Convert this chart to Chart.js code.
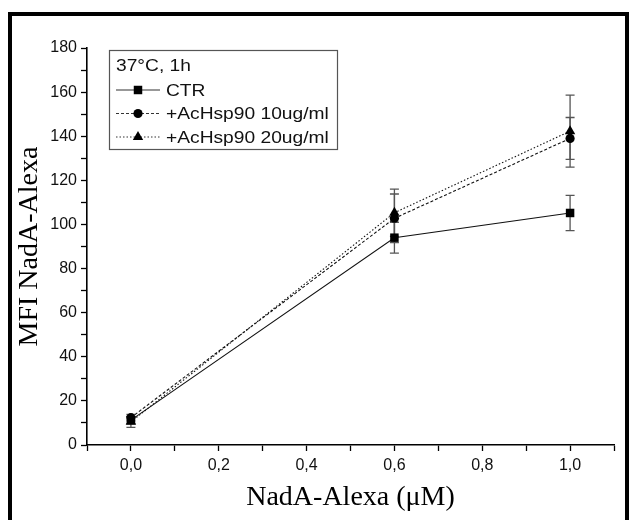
<!DOCTYPE html>
<html><head><meta charset="utf-8">
<script src="https://cdn.jsdelivr.net/npm/chart.js@4/dist/chart.umd.min.js"></script>
<style>html,body{margin:0;padding:0;background:#fff;overflow:hidden}canvas{display:block}</style>
</head><body>
<canvas id="c" width="636" height="520"></canvas>
<script>
// ---- data ----
const concentrations = [0.0, 0.6, 1.0];
const ctrValues   = [11.3, 94.0, 105.2];
const ctrErrors   = [1.5, 7.0, 8.0];
const hsp10Values = [12.4, 102.8, 139.0];
const hsp10Errors = [1.5, 11.0, 9.5];
const hsp20Values = [10.5, 105.3, 142.3];
const hsp20Errors = [2.5, 10.7, 16.3];
const seriesLabels = ['CTR', '+AcHsp90 10ug/ml', '+AcHsp90 20ug/ml'];
const legendTitle = '37°C, 1h';
const xTitle = 'NadA-Alexa (μM)';
const yTitle = 'MFI NadA-Alexa';
const xMajorTicks = [0.0, 0.2, 0.4, 0.6, 0.8, 1.0];
const xTickLabels = ['0,0', '0,2', '0,4', '0,6', '0,8', '1,0'];
const yMajorTicks = [0, 20, 40, 60, 80, 100, 120, 140, 160, 180];
const yTickLabels = ['0', '20', '40', '60', '80', '100', '120', '140', '160', '180'];

function makeSet(label, vals, errs, style, radius, dash) {
  return {
    label: label,
    data: concentrations.map((x, i) => ({ x: x, y: vals[i] })),
    errors: errs,
    showLine: true,
    borderColor: '#111',
    borderWidth: 1.1,
    borderDash: dash,
    pointStyle: style,
    pointRadius: radius,
    pointBackgroundColor: '#000',
    pointBorderColor: '#000',
    pointBorderWidth: 0,
    tension: 0
  };
}

const datasets = [
  makeSet(seriesLabels[0], ctrValues, ctrErrors, 'rect', 6, []),
  makeSet(seriesLabels[1], hsp10Values, hsp10Errors, 'circle', 4.6, [3, 2]),
  makeSet(seriesLabels[2], hsp20Values, hsp20Errors, 'triangle', 6, [1.5, 2])
];

const framePlugin = {
  id: 'frame',
  beforeDraw(chart) {
    const ctx = chart.ctx;
    ctx.save();
    ctx.fillStyle = '#fff';
    ctx.fillRect(0, 0, chart.width, chart.height);
    ctx.strokeStyle = '#000';
    ctx.lineWidth = 4;
    ctx.beginPath();
    ctx.moveTo(10, 530);
    ctx.lineTo(10, 14);
    ctx.lineTo(627, 14);
    ctx.lineTo(627, 530);
    ctx.stroke();
    ctx.restore();
  }
};

const errorBarPlugin = {
  id: 'errorBars',
  beforeDatasetsDraw(chart) {
    const ctx = chart.ctx;
    const xs = chart.scales.x, ys = chart.scales.y;
    ctx.save();
    ctx.strokeStyle = '#555';
    ctx.lineWidth = 1.3;
    chart.data.datasets.forEach(ds => {
      ds.data.forEach((p, i) => {
        const e = ds.errors[i];
        const px = xs.getPixelForValue(p.x);
        const yt = ys.getPixelForValue(p.y + e);
        const yb = ys.getPixelForValue(p.y - e);
        ctx.beginPath();
        ctx.moveTo(px, yt); ctx.lineTo(px, yb);
        ctx.moveTo(px - 4.5, yt); ctx.lineTo(px + 4.5, yt);
        ctx.moveTo(px - 4.5, yb); ctx.lineTo(px + 4.5, yb);
        ctx.stroke();
      });
    });
    ctx.restore();
  }
};

function drawMarker(ctx, style, r, x, y) {
  ctx.beginPath();
  if (style === 'rect') {
    const s = Math.SQRT1_2 * r;
    ctx.rect(x - s, y - s, 2 * s, 2 * s);
  } else if (style === 'circle') {
    ctx.arc(x, y, r, 0, Math.PI * 2);
  } else if (style === 'triangle') {
    let a = 0;
    ctx.moveTo(x + Math.sin(a) * r, y - Math.cos(a) * r);
    a += 2 * Math.PI / 3;
    ctx.lineTo(x + Math.sin(a) * r, y - Math.cos(a) * r);
    a += 2 * Math.PI / 3;
    ctx.lineTo(x + Math.sin(a) * r, y - Math.cos(a) * r);
    ctx.closePath();
  }
  ctx.fill();
}

const legendPlugin = {
  id: 'boxLegend',
  afterDraw(chart) {
    const ctx = chart.ctx;
    ctx.save();
    ctx.strokeStyle = '#555';
    ctx.lineWidth = 1.2;
    ctx.strokeRect(109.5, 50.5, 228, 99);
    ctx.fillStyle = '#111';
    ctx.font = '17px "Liberation Sans", Arial, sans-serif';
    ctx.textBaseline = 'middle';
    const drawText = (t, x, y) => {
      ctx.save();
      ctx.translate(x, y);
      ctx.scale(1.13, 1);
      ctx.fillText(t, 0, 0);
      ctx.restore();
    };
    drawText(legendTitle, 116, 66);
    const rows = [90, 113.5, 137];
    chart.data.datasets.forEach((ds, i) => {
      const y = rows[i];
      ctx.save();
      ctx.strokeStyle = '#333';
      ctx.lineWidth = 1.1;
      ctx.setLineDash(ds.borderDash);
      ctx.beginPath();
      ctx.moveTo(116, y); ctx.lineTo(160, y);
      ctx.stroke();
      ctx.restore();
      ctx.fillStyle = '#000';
      drawMarker(ctx, ds.pointStyle, ds.pointRadius, 138, y);
      ctx.fillStyle = '#111';
      drawText(ds.label, 166, y + 1);
    });
    ctx.restore();
  }
};

const tickFont = { family: '"Liberation Sans", Arial, sans-serif', size: 16 };
const titleFont = { family: '"Liberation Serif", "Times New Roman", serif', size: 28 };

new Chart(document.getElementById('c'), {
  type: 'scatter',
  data: { datasets: datasets },
  options: {
    responsive: false,
    animation: false,
    layout: { padding: { left: 0, right: 22, top: 48, bottom: 0 } },
    plugins: { legend: { display: false }, tooltip: { enabled: false } },
    scales: {
      x: {
        type: 'linear', min: -0.1, max: 1.1,
        afterFit(s) { s.height = 75; },
        ticks: {
          stepSize: 0.1, autoSkip: false, maxRotation: 0, color: '#111', font: tickFont, padding: 5,
          callback(v) {
            const i = xMajorTicks.findIndex(t => Math.abs(t - v) < 1e-6);
            return i >= 0 ? xTickLabels[i] : '';
          }
        },
        grid: { drawOnChartArea: false, drawTicks: true, tickLength: 6, color: '#000', tickWidth: 1.3 },
        border: { display: true, color: '#000', width: 1.6 },
        title: { display: true, text: xTitle, font: titleFont, color: '#000', padding: { top: 0, bottom: 6 } }
      },
      y: {
        type: 'linear', min: 0, max: 180,
        afterFit(s) { s.width = 87; },
        ticks: {
          stepSize: 10, autoSkip: false, color: '#111', font: tickFont, padding: 4,
          callback(v) {
            const i = yMajorTicks.findIndex(t => Math.abs(t - v) < 1e-6);
            return i >= 0 ? yTickLabels[i] : '';
          }
        },
        grid: { drawOnChartArea: false, drawTicks: true, tickLength: 6, color: '#000', tickWidth: 1.3 },
        border: { display: true, color: '#000', width: 1.6 },
        title: { display: true, text: yTitle, font: titleFont, color: '#000', padding: { top: 13, bottom: 0 } }
      }
    }
  },
  plugins: [framePlugin, errorBarPlugin, legendPlugin]
});
</script>
</body></html>
